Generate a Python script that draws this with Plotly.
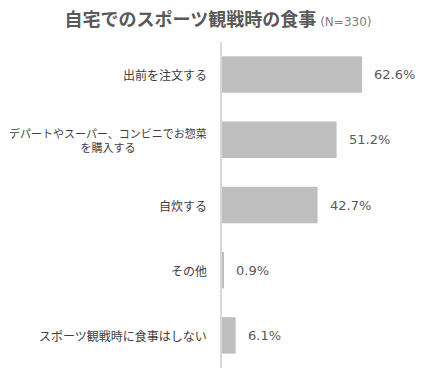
import plotly.graph_objects as go

categories = [
    "出前を注文する",
    "デパートやスーパー、コンビニでお惣菜<br>を購入する",
    "自炊する",
    "その他",
    "スポーツ観戦時に食事はしない",
]
values = [62.6, 51.2, 42.7, 0.9, 6.1]
value_labels = ["62.6%", "51.2%", "42.7%", "0.9%", "6.1%"]

JP = "Noto Sans CJK JP"
NUM = "DejaVu Sans, Noto Sans CJK JP"

fig = go.Figure(
    go.Bar(
        x=values,
        y=categories,
        orientation="h",
        marker=dict(color="#BFBFBF", line=dict(width=0)),
        width=0.56,
        hoverinfo="skip",
    )
)

annotations = []
for c, v, t in zip(categories, values, value_labels):
    annotations.append(dict(
        x=v, y=c, xref="x", yref="y", text=t, showarrow=False,
        xanchor="left", xshift=10,
        font=dict(family=NUM, size=13, color="#595959"),
    ))
    annotations.append(dict(
        x=0, y=c, xref="paper", yref="y", text=c, showarrow=False,
        xanchor="right", xshift=-13, align="center",
        font=dict(family=JP, size=11 if "<br>" in c else 12, color="#404040"),
    ))

fig.update_layout(
    width=420, height=361,
    margin=dict(l=214, r=27, t=34, b=1),
    paper_bgcolor="white", plot_bgcolor="white",
    showlegend=False,
    title=dict(
        text="<b>自宅でのスポーツ観戦時の食事</b> <span style='font-size:12px;color:#7F7F7F;font-family:DejaVu Sans'>(N=330)</span>",
        x=0.5, xanchor="center", y=0.967, yanchor="middle",
        font=dict(family=JP, size=18, color="#595959"),
    ),
    xaxis=dict(range=[0, 80], showgrid=False, zeroline=False, showticklabels=False,
               showline=False, fixedrange=True),
    yaxis=dict(autorange="reversed", showticklabels=False, showgrid=False,
               showline=True, linecolor="#D9D9D9", linewidth=2, ticks=""),
    annotations=annotations,
)

fig.write_html("out.html")
